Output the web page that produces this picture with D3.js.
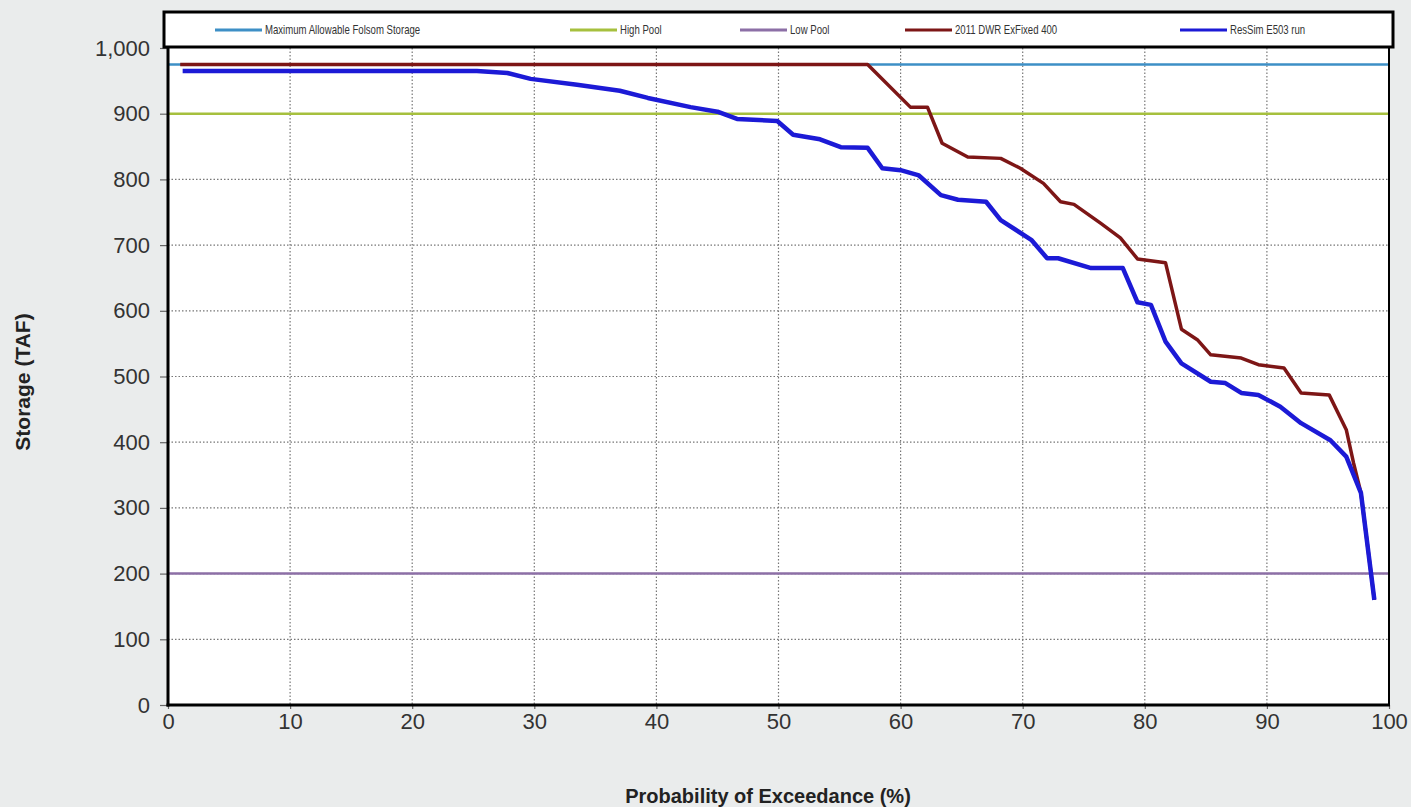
<!DOCTYPE html>
<html>
<head>
<meta charset="utf-8">
<script src="https://cdn.jsdelivr.net/npm/d3@7"></script>
<style>
  body { margin: 0; background: #eaecec; }
  svg { display: block; }
</style>
</head>
<body>
<div id="chart"></div>
<script>
// reference levels (TAF)
var maxAllowable = 975;
var highPool = 900;
var lowPool = 200;

// 2011 DWR ExFixed 400
var dwrProb = [1, 57.3, 60.8, 62.2, 63.4, 65.5, 68.2, 69.8, 71.7, 73.1, 74.2, 76.4, 78, 79.4, 81.7, 83, 84.3, 85.4, 87.9, 89.3, 91.4, 92.8, 95.1, 96.5, 97.1, 97.7, 98.8];
var dwrStorage = [975, 975, 910, 910, 855, 834, 832, 817, 794, 766, 762, 733, 711, 679, 673, 572, 556, 533, 528, 518, 513, 475, 472, 419, 368, 323, 160];

// ResSim E503 run
var resProb = [1.2, 25.3, 27.8, 29.7, 33.5, 37, 39.3, 42.8, 45, 46.6, 49.9, 51.2, 53.4, 55.1, 57.3, 58.5, 60, 61.5, 63.3, 64.7, 67, 68.2, 70.7, 72, 72.9, 75.6, 78.2, 79.4, 80.5, 81.7, 83, 85.4, 86.6, 87.9, 89.3, 91.1, 92.8, 95.2, 96.5, 97.7, 98.8];
var resStorage = [965, 965, 962, 953, 944, 935, 924, 910, 903, 892, 889, 868, 861, 849, 848, 817, 814, 806, 776, 769, 766, 738, 708, 680, 680, 665, 665, 613, 609, 553, 520, 492, 490, 475, 472, 454, 429, 403, 378, 323, 160];

var xTicks = [0, 10, 20, 30, 40, 50, 60, 70, 80, 90, 100];
var yTicks = [0, 100, 200, 300, 400, 500, 600, 700, 800, 900, 1000];

var legendNames = ["Maximum Allowable Folsom Storage", "High Pool", "Low Pool", "2011 DWR ExFixed 400", "ResSim E503 run"];
var legendColors = ["#3d8fc6", "#a6c03e", "#8c6fa6", "#7d1616", "#1c1ad6"];

var W = 1411, H = 807;
var pLeft = 168, pRight = 1389, pTop = 48, pBottom = 705;

var svg = d3.select("#chart").append("svg").attr("width", W).attr("height", H);

var x = d3.scaleLinear().domain([0, 100]).range([pLeft, pRight]);
var y = d3.scaleLinear().domain([0, 1000]).range([pBottom, pTop]);

svg.append("rect")
  .attr("x", pLeft).attr("y", pTop)
  .attr("width", pRight - pLeft).attr("height", pBottom - pTop)
  .attr("fill", "#fff");

// grid
svg.append("g").selectAll("line")
  .data(xTicks.filter(d => d > 0 && d < 100))
  .enter().append("line")
  .attr("x1", d => x(d)).attr("x2", d => x(d))
  .attr("y1", pTop).attr("y2", pBottom)
  .attr("stroke", "#777").attr("stroke-width", 1.2).attr("stroke-dasharray", "1.5,2");

svg.append("g").selectAll("line")
  .data(yTicks.filter(d => d > 0 && d < 1000))
  .enter().append("line")
  .attr("x1", pLeft).attr("x2", pRight)
  .attr("y1", d => y(d)).attr("y2", d => y(d))
  .attr("stroke", "#777").attr("stroke-width", 1.2).attr("stroke-dasharray", "1.5,2");

// axes
var yAxis = svg.append("g")
  .attr("transform", "translate(" + pLeft + ",0)")
  .call(d3.axisLeft(y).tickValues(yTicks).tickSize(8).tickPadding(10).tickFormat(d3.format(",")));
var xAxis = svg.append("g")
  .attr("transform", "translate(0," + pBottom + ")")
  .call(d3.axisBottom(x).tickValues(xTicks).tickSize(4).tickPadding(4));

[yAxis, xAxis].forEach(function (g) {
  g.select(".domain").remove();
  g.selectAll(".tick line").attr("stroke", "#666").attr("stroke-width", 1.2);
  g.selectAll("text")
    .attr("fill", "#333")
    .attr("font-size", 22)
    .attr("font-family", "Liberation Sans, Arial, sans-serif");
});

// reference lines
var refs = [[maxAllowable, legendColors[0]], [highPool, legendColors[1]], [lowPool, legendColors[2]]];
svg.append("g").selectAll("line")
  .data(refs)
  .enter().append("line")
  .attr("x1", x(0)).attr("x2", x(100))
  .attr("y1", d => y(d[0])).attr("y2", d => y(d[0]))
  .attr("stroke", d => d[1]).attr("stroke-width", 2.5);

var line = d3.line().x(d => x(d[0])).y(d => y(d[1]));

svg.append("path")
  .datum(dwrProb.map((p, i) => [p, dwrStorage[i]]))
  .attr("d", line)
  .attr("fill", "none").attr("stroke", legendColors[3]).attr("stroke-width", 3.5)
  .attr("stroke-linejoin", "round");

svg.append("path")
  .datum(resProb.map((p, i) => [p, resStorage[i]]))
  .attr("d", line)
  .attr("fill", "none").attr("stroke", legendColors[4]).attr("stroke-width", 4.5)
  .attr("stroke-linejoin", "round");

// plot frame
svg.append("line").attr("x1", pLeft).attr("x2", pLeft).attr("y1", pTop).attr("y2", pBottom + 1.5)
  .attr("stroke", "#000").attr("stroke-width", 3);
svg.append("line").attr("x1", pLeft - 1.5).attr("x2", pRight + 1).attr("y1", pBottom).attr("y2", pBottom)
  .attr("stroke", "#000").attr("stroke-width", 3);
svg.append("line").attr("x1", pRight).attr("x2", pRight).attr("y1", pTop).attr("y2", pBottom)
  .attr("stroke", "#000").attr("stroke-width", 2);

// legend box
svg.append("rect")
  .attr("x", 164).attr("y", 12)
  .attr("width", 1229).attr("height", 35)
  .attr("fill", "#fff").attr("stroke", "#000").attr("stroke-width", 3);

var legendX = [215, 570, 740, 905, 1180];
var leg = svg.append("g").selectAll("g")
  .data(legendNames)
  .enter().append("g")
  .attr("transform", (d, i) => "translate(" + legendX[i] + ",30)");
leg.append("line")
  .attr("x1", 0).attr("x2", 47)
  .attr("stroke", (d, i) => legendColors[i]).attr("stroke-width", 3);
leg.append("text")
  .attr("transform", "translate(50,0) scale(0.8,1)")
  .attr("dy", "0.35em")
  .text(d => d)
  .attr("fill", "#333")
  .attr("font-size", 12)
  .attr("font-family", "Liberation Sans, Arial, sans-serif");

// axis titles
svg.append("text")
  .attr("x", 768).attr("y", 803)
  .attr("text-anchor", "middle")
  .attr("font-size", 20).attr("font-weight", "bold")
  .attr("font-family", "Liberation Sans, Arial, sans-serif")
  .attr("fill", "#222")
  .text("Probability of Exceedance (%)");

svg.append("text")
  .attr("transform", "translate(30,382) rotate(-90)")
  .attr("text-anchor", "middle")
  .attr("font-size", 21).attr("font-weight", "bold")
  .attr("font-family", "Liberation Sans, Arial, sans-serif")
  .attr("fill", "#222")
  .text("Storage (TAF)");
</script>
</body>
</html>
